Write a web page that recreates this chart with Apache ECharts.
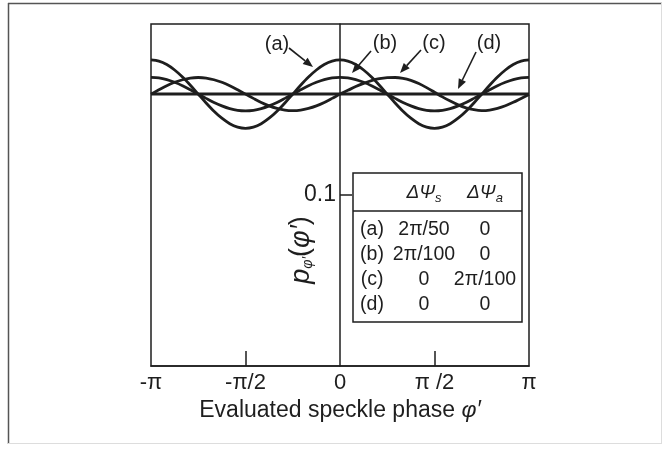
<!DOCTYPE html>
<html>
<head>
<meta charset="utf-8">
<script src="https://cdn.jsdelivr.net/npm/echarts@6/dist/echarts.min.js"></script>
<style>
html,body{margin:0;padding:0;background:#fff;}
#chart{width:668px;height:449px;}
</style>
</head>
<body>
<div id="chart"></div>
<script>
// x positions in units of pi
const phi = [-1, -0.9583, -0.9167, -0.875, -0.8333, -0.7917, -0.75, -0.7083, -0.6667, -0.625, -0.5833, -0.5417,
             -0.5, -0.4583, -0.4167, -0.375, -0.3333, -0.2917, -0.25, -0.2083, -0.1667, -0.125, -0.0833, -0.0417,
             0, 0.0417, 0.0833, 0.125, 0.1667, 0.2083, 0.25, 0.2917, 0.3333, 0.375, 0.4167, 0.4583,
             0.5, 0.5417, 0.5833, 0.625, 0.6667, 0.7083, 0.75, 0.7917, 0.8333, 0.875, 0.9167, 0.9583, 1];
const seriesA = [0.1790,0.1783,0.1763,0.1731,0.1690,0.1642,0.1590,0.1538,0.1490,0.1449,0.1417,0.1397,
                 0.1390,0.1397,0.1417,0.1449,0.1490,0.1538,0.1590,0.1642,0.1690,0.1731,0.1763,0.1783,
                 0.1790,0.1783,0.1763,0.1731,0.1690,0.1642,0.1590,0.1538,0.1490,0.1449,0.1417,0.1397,
                 0.1390,0.1397,0.1417,0.1449,0.1490,0.1538,0.1590,0.1642,0.1690,0.1731,0.1763,0.1783,0.1790];
const seriesB = [0.1688,0.1685,0.1675,0.1659,0.1639,0.1615,0.1590,0.1565,0.1541,0.1521,0.1505,0.1495,
                 0.1492,0.1495,0.1505,0.1521,0.1541,0.1565,0.1590,0.1615,0.1639,0.1659,0.1675,0.1685,
                 0.1688,0.1685,0.1675,0.1659,0.1639,0.1615,0.1590,0.1565,0.1541,0.1521,0.1505,0.1495,
                 0.1492,0.1495,0.1505,0.1521,0.1541,0.1565,0.1590,0.1615,0.1639,0.1659,0.1675,0.1685,0.1688];
const seriesC = [0.1590,0.1615,0.1639,0.1659,0.1674,0.1684,0.1687,0.1684,0.1674,0.1659,0.1639,0.1615,
                 0.1590,0.1565,0.1541,0.1521,0.1506,0.1496,0.1493,0.1496,0.1506,0.1521,0.1541,0.1565,
                 0.1590,0.1612,0.1634,0.1653,0.1669,0.1680,0.1686,0.1687,0.1682,0.1670,0.1652,0.1628,
                 0.1601,0.1574,0.1549,0.1527,0.1510,0.1499,0.1494,0.1497,0.1507,0.1522,0.1542,0.1565,0.1588];
const seriesD = [0.159,0.159,0.159,0.159,0.159,0.159,0.159,0.159,0.159,0.159,0.159,0.159,
                 0.159,0.159,0.159,0.159,0.159,0.159,0.159,0.159,0.159,0.159,0.159,0.159,
                 0.159,0.159,0.159,0.159,0.159,0.159,0.159,0.159,0.159,0.159,0.159,0.159,
                 0.159,0.159,0.159,0.159,0.159,0.159,0.159,0.159,0.159,0.159,0.159,0.159,0.159];
const xTickValues = [-1, -0.5, 0, 0.5, 1];
const xTickLabels = ['-π', '-π/2', '0', 'π /2', 'π'];
const yTickValues = [0.1];
const yTickLabels = ['0.1'];
const tableRows = [
  ['(a)', '2π/50', '0'],
  ['(b)', '2π/100', '0'],
  ['(c)', '0', '2π/100'],
  ['(d)', '0', '0']
];
const curveLabels = ['(a)', '(b)', '(c)', '(d)'];

const FONT = 'Liberation Sans';
const INK = '#1e1e1e';

function pairs(ys){ return phi.map((x,i)=>[x, ys[i]]); }
function lineSeries(name, ys, w){
  return {name, type:'line', data:pairs(ys), smooth:0.3, showSymbol:false, silent:true,
          lineStyle:{color:INK, width:w}, z:3};
}

const chart = echarts.init(document.getElementById('chart'), null, {renderer:'canvas'});

// table geometry
const T = {x:353, y:173, w:169, h:149, sep:211};
const colX = [372, 424, 485];
const rowY = [230, 255, 280, 305];

const graphics = [];
// outer frame
graphics.push({type:'line', shape:{x1:8,y1:3.5,x2:662,y2:3.5}, style:{stroke:'#555', lineWidth:1.5}});
graphics.push({type:'line', shape:{x1:8.5,y1:3,x2:8.5,y2:444}, style:{stroke:'#555', lineWidth:1.5}});
graphics.push({type:'line', shape:{x1:661.5,y1:3,x2:661.5,y2:444}, style:{stroke:'#ddd', lineWidth:1}});
graphics.push({type:'line', shape:{x1:8,y1:443.5,x2:662,y2:443.5}, style:{stroke:'#ddd', lineWidth:1}});

// table
graphics.push({type:'rect', shape:{x:T.x, y:T.y, width:T.w, height:T.h}, style:{fill:'#fff', stroke:INK, lineWidth:1.5}, z:10});
graphics.push({type:'line', shape:{x1:T.x, y1:T.sep, x2:T.x+T.w, y2:T.sep}, style:{stroke:INK, lineWidth:1.5}, z:11});
const headRich = {
  h:{fontFamily:FONT, fontSize:19, fontStyle:'italic', fill:INK},
  s:{fontFamily:FONT, fontSize:13, fontStyle:'italic', fill:INK, padding:[10,0,0,0]}
};
graphics.push({type:'text', x:colX[1], y:193, z:11, style:{text:'{h|ΔΨ}{s|s}', rich:headRich, align:'center', verticalAlign:'middle'}});
graphics.push({type:'text', x:colX[2], y:193, z:11, style:{text:'{h|ΔΨ}{s|a}', rich:headRich, align:'center', verticalAlign:'middle'}});
tableRows.forEach((row, r)=>{
  row.forEach((cell, c)=>{
    graphics.push({type:'text', x:colX[c], y:rowY[r], z:11,
      style:{text:cell, fontFamily:FONT, fontSize:19.5, fill:INK, align:'center', verticalAlign:'middle'}});
  });
});

// curve labels + arrows
const lblPos = [[277,44],[385,43],[434,43],[489,43]];
const arrows = [[[289,48],[313,67]], [[371,51],[352,73]], [[421,50],[400,73]], [[476,52],[458,89]]];
curveLabels.forEach((t,i)=>{
  graphics.push({type:'text', x:lblPos[i][0], y:lblPos[i][1], z:12,
    style:{text:t, fontFamily:FONT, fontSize:20, fill:INK, align:'center', verticalAlign:'middle'}});
});
arrows.forEach(([p0,p1])=>{
  const dx=p1[0]-p0[0], dy=p1[1]-p0[1], L=Math.hypot(dx,dy), ux=dx/L, uy=dy/L;
  const hl=10, hw=4;
  const bx=p1[0]-ux*hl, by=p1[1]-uy*hl;
  graphics.push({type:'line', shape:{x1:p0[0],y1:p0[1],x2:bx,y2:by}, style:{stroke:INK, lineWidth:1.6}, z:12});
  graphics.push({type:'polygon', shape:{points:[[p1[0],p1[1]],[bx-uy*hw,by+ux*hw],[bx+uy*hw,by-ux*hw]]}, style:{fill:INK}, z:12});
});

// y-axis name
graphics.push({type:'text', x:301, y:250, rotation:Math.PI/2, z:12,
  style:{text:'{p|p}{s|φ′}{n|(}{i|φ′}{n|)}', align:'center', verticalAlign:'middle',
    rich:{
      p:{fontFamily:FONT, fontSize:27, fontStyle:'italic', fill:INK},
      s:{fontFamily:FONT, fontSize:14, fontStyle:'italic', fill:INK, padding:[14,0,0,0]},
      n:{fontFamily:FONT, fontSize:27, fill:INK},
      i:{fontFamily:FONT, fontSize:27, fontStyle:'italic', fill:INK}
    }}});

const option = {
  backgroundColor:'#fff',
  animation:false,
  grid:{left:151, right:139, top:24, bottom:83, show:true, borderColor:INK, borderWidth:1.5, backgroundColor:'transparent'},
  xAxis:{
    type:'value', min:-1, max:1, interval:0.5,
    axisLine:{onZero:false, lineStyle:{color:INK, width:1.5}},
    axisTick:{show:true, inside:true, length:15, customValues:[-0.5, 0.5], lineStyle:{color:INK, width:1.5}},
    axisLabel:{customValues:xTickValues, margin:6, fontFamily:FONT, fontSize:22, color:INK,
      formatter:(v)=>{ const i = xTickValues.findIndex(t=>Math.abs(t-v)<1e-6); return i>=0?xTickLabels[i]:''; }},
    splitLine:{show:false},
    name:'Evaluated speckle phase {i|φ′}', nameLocation:'middle', nameGap:23,
    nameTextStyle:{fontFamily:FONT, fontSize:23, color:INK,
      rich:{i:{fontFamily:FONT, fontSize:23, fontStyle:'italic', color:INK}}}
  },
  yAxis:{
    type:'value', min:0, max:0.2, interval:0.1, position:'left', offset:-189,
    axisLine:{onZero:false, lineStyle:{color:INK, width:1.5}},
    axisTick:{show:true, inside:true, length:12, customValues:yTickValues, lineStyle:{color:INK, width:1.5}},
    axisLabel:{customValues:yTickValues, margin:4, fontFamily:FONT, fontSize:23, color:INK,
      formatter:(v)=>{ const i = yTickValues.findIndex(t=>Math.abs(t-v)<1e-9); return i>=0?yTickLabels[i]:''; }},
    splitLine:{show:false}
  },
  series:[
    lineSeries('(a)', seriesA, 2.8),
    lineSeries('(b)', seriesB, 2.8),
    lineSeries('(c)', seriesC, 2.8),
    lineSeries('(d)', seriesD, 3)
  ],
  graphic:graphics
};
chart.setOption(option);
</script>
</body>
</html>
